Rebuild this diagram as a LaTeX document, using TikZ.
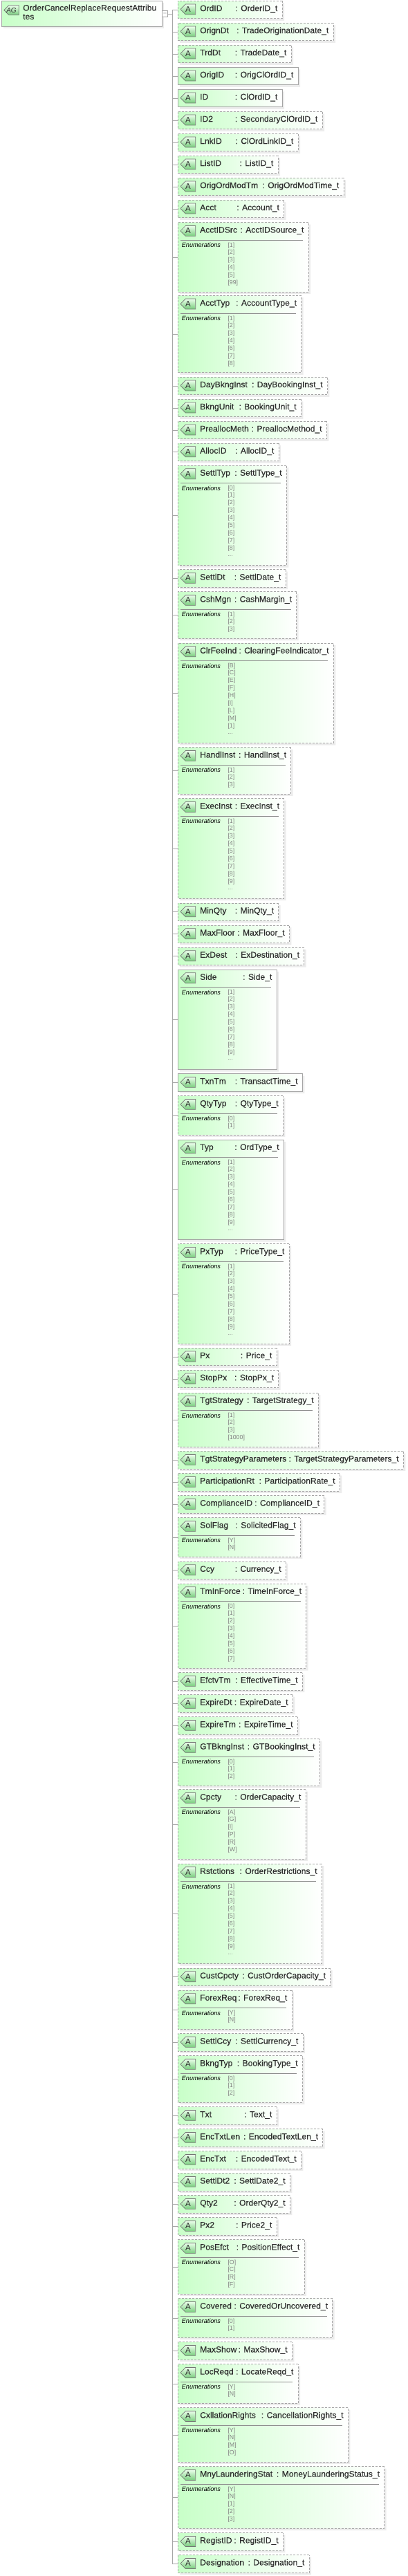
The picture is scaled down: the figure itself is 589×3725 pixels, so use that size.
\documentclass[tikz,border=0pt]{standalone}
\usepackage{fontspec}
\setmainfont{Liberation Sans}
\newfontfamily\attrfont[FakeBold=0.2]{Liberation Sans}
\usetikzlibrary{shapes.misc, shadows}
\definecolor{attrgreen}{RGB}{200,255,200}
\definecolor{iconlow}{RGB}{120,205,125}
\definecolor{iconhigh}{RGB}{235,255,235}
\definecolor{edgegray}{RGB}{165,165,165}
\definecolor{textgray}{RGB}{45,45,45}
\definecolor{enumgray}{RGB}{130,130,130}

\newcommand{\attrhead}[4]{%
  \node[attricon] (#1-icon) at (272,12.2) {A};
  \node[attrtext, anchor=base west] (#1-name) at (289,14.8) {#3};
  \node[attrtext, anchor=base east] (#1-type) at (#2-6.5,14.8) {#4};
  \node[attrtext, anchor=base east] (#1-colon) at ([xshift=-4pt]#1-type.base west) {:};
  \draw[wire] (toggle.east) -- (fork) |- (#1.west);
}
\newcommand{\attrbox}[6][opt]{%
  \pgfmathsetmacro\boxw{#4-257}
  \begin{scope}[shift={(0,#3)}]
    \node[attr, #1, minimum width=\boxw pt, minimum height=25.5pt] (#2) at (257,12.75) {};
    \attrhead{#2}{#4}{#5}{#6}
  \end{scope}
}
\newcommand{\enumbox}[7][opt]{%
  \foreach \enumv [count=\rowc] in {#7} {\xdef\enumn{\rowc}}
  \pgfmathsetmacro\boxw{#4-257}
  \pgfmathsetmacro\boxh{34.5+11*\enumn}
  \pgfmathsetmacro\boxm{\boxh/2}
  \begin{scope}[shift={(0,#3)}]
    \node[attr, #1, minimum width=\boxw pt, minimum height=\boxh pt] (#2) at (257,\boxm) {};
    \attrhead{#2}{#4}{#5}{#6}
    \coordinate (#2-a) at (261.3,25.7);
    \coordinate (#2-b) at (#4-8,25.7);
    \draw[rowline] (#2-a) -- (#2-b);
    \node[enumhead] (#2-enum) at (262.7,36) {Enumerations};
    \foreach \enumv [count=\rowc] in {#7} {
      \pgfmathsetmacro\rowy{ifthenelse(\rowc==1,35.7,45.7+11*(\rowc-2))}
      \node[enumval] (#2-v\rowc) at (329.3,\rowy) {\enumv};
    }
  \end{scope}
}
\newcommand{\enumdots}{\raisebox{2pt}{...}}

\begin{document}
\begin{tikzpicture}[
    x=1pt, y=-1pt,
    attr/.style={draw=edgegray, line width=0.8pt, anchor=west, inner sep=0pt, outer sep=0pt,
      chamfered rectangle, chamfered rectangle sep=8pt,
      chamfered rectangle corners={north west,south west},
      left color=attrgreen, right color=white,
      drop shadow={shadow xshift=3pt, shadow yshift=-3pt, fill=black!15}},
    opt/.style={dash pattern=on 3pt off 2pt},
    req/.style={solid},
    attricon/.style={draw=black!55, line width=0.7pt, inner sep=0pt, minimum width=21.4pt, minimum height=13.6pt,
      chamfered rectangle, chamfered rectangle sep=3.5pt,
      chamfered rectangle corners={north west,south west},
      top color=iconhigh, bottom color=iconlow, text=textgray, font=\fontsize{11.5}{12}\selectfont},
    attrtext/.style={inner sep=0pt, text=textgray, font=\attrfont\fontsize{12.1}{12.7}\selectfont},
    enumhead/.style={inner sep=0pt, anchor=base west, font=\fontsize{9.1}{10}\selectfont\itshape},
    enumval/.style={inner sep=0pt, anchor=base west, text=enumgray, font=\fontsize{8.8}{10}\selectfont},
    rowline/.style={draw=black!45, line width=0.7pt},
    wire/.style={draw=black!35, line width=0.8pt},
    togglebox/.style={draw=edgegray, fill=white, line width=0.7pt, inner sep=0pt, minimum size=8.5pt,
      text=enumgray, font=\fontsize{8}{8}\selectfont}
]
\useasboundingbox (0,0) rectangle (589,3725);

\node[attr, req, minimum width=232pt, minimum height=37pt] (group) at (2,19.5) {};
\node[attricon, minimum width=21pt, minimum height=13pt, font=\fontsize{10}{11}\selectfont\itshape] (group-icon) at (16.5,14.7) {AG};
\node[attrtext, anchor=north west, align=left] (group-name) at (33,6.5) {OrderCancelReplaceRequestAttribu\\tes};
\node[togglebox] (toggle) at (238.5,20) {--};
\coordinate (fork) at (249.7,20);

\attrbox{OrdID}{1.3}{408}{OrdID}{OrderID\_t}
\attrbox{OrignDt}{33.3}{482}{OrignDt}{TradeOriginationDate\_t}
\attrbox{TrdDt}{65.3}{421}{TrdDt}{TradeDate\_t}
\attrbox[req]{OrigID}{97.3}{431}{OrigID}{OrigClOrdID\_t}
\attrbox[req]{ID}{129.3}{408}{ID}{ClOrdID\_t}
\attrbox{ID2}{161.3}{466}{ID2}{SecondaryClOrdID\_t}
\attrbox{LnkID}{193.3}{431}{LnkID}{ClOrdLinkID\_t}
\attrbox{ListID}{225.3}{402}{ListID}{ListID\_t}
\attrbox{OrigOrdModTm}{257.3}{497}{OrigOrdModTm}{OrigOrdModTime\_t}
\attrbox{Acct}{289.3}{410.6}{Acct}{Account\_t}
\enumbox{AcctIDSrc}{321.7}{446}{AcctIDSrc}{AcctIDSource\_t}{[1],[2],[3],[4],[5],[99]}
\enumbox{AcctTyp}{427.3}{435.7}{AcctTyp}{AccountType\_t}{[1],[2],[3],[4],[6],[7],[8]}
\attrbox{DayBkngInst}{545.3}{473.3}{DayBkngInst}{DayBookingInst\_t}
\attrbox{BkngUnit}{577.3}{435.3}{BkngUnit}{BookingUnit\_t}
\attrbox{PreallocMeth}{609.3}{472.3}{PreallocMeth}{PreallocMethod\_t}
\attrbox{AllocID}{641.0}{403}{AllocID}{AllocID\_t}
\enumbox{SettlTyp}{673.0}{414.3}{SettlTyp}{SettlType\_t}{[0],[1],[2],[3],[4],[5],[6],[7],[8],\enumdots}
\attrbox{SettlDt}{823.7}{413}{SettlDt}{SettlDate\_t}
\enumbox{CshMgn}{855.7}{428.7}{CshMgn}{CashMargin\_t}{[1],[2],[3]}
\enumbox{ClrFeeInd}{930.0}{482.3}{ClrFeeInd}{ClearingFeeIndicator\_t}{[B],[C],[E],[F],[H],[I],[L],[M],[1],\enumdots}
\enumbox{HandlInst}{1080.7}{420.7}{HandlInst}{HandlInst\_t}{[1],[2],[3]}
\enumbox{ExecInst}{1154.7}{410.7}{ExecInst}{ExecInst\_t}{[1],[2],[3],[4],[5],[6],[7],[8],[9],\enumdots}
\attrbox{MinQty}{1306}{402.7}{MinQty}{MinQty\_t}
\attrbox{MaxFloor}{1338}{418.3}{MaxFloor}{MaxFloor\_t}
\attrbox{ExDest}{1370}{439.7}{ExDest}{ExDestination\_t}
\enumbox[req]{Side}{1402}{400}{Side}{Side\_t}{[1],[2],[3],[4],[5],[6],[7],[8],[9],\enumdots}
\attrbox[req]{TxnTm}{1552.7}{437.3}{TxnTm}{TransactTime\_t}
\enumbox{QtyTyp}{1584.7}{409.3}{QtyTyp}{QtyType\_t}{[0],[1]}
\enumbox[req]{Typ}{1648}{410.3}{Typ}{OrdType\_t}{[1],[2],[3],[4],[5],[6],[7],[8],[9],\enumdots}
\enumbox{PxTyp}{1798.7}{418}{PxTyp}{PriceType\_t}{[1],[2],[3],[4],[5],[6],[7],[8],[9],\enumdots}
\attrbox{Px}{1949.3}{400}{Px}{Price\_t}
\attrbox{StopPx}{1981.3}{402.7}{StopPx}{StopPx\_t}
\enumbox{TgtStrategy}{2014}{460.3}{TgtStrategy}{TargetStrategy\_t}{[1],[2],[3],[1000]}
\attrbox{TgtStrategyParameters}{2098.7}{583.3}{TgtStrategyParameters}{TargetStrategyParameters\_t}
\attrbox{ParticipationRt}{2130.7}{491.3}{ParticipationRt}{ParticipationRate\_t}
\attrbox{ComplianceID}{2162.7}{468.7}{ComplianceID}{ComplianceID\_t}
\enumbox{SolFlag}{2194.7}{434.3}{SolFlag}{SolicitedFlag\_t}{[Y],[N]}
\attrbox{Ccy}{2258}{413.3}{Ccy}{Currency\_t}
\enumbox{TmInForce}{2290}{442.7}{TmInForce}{TimeInForce\_t}{[0],[1],[2],[3],[4],[5],[6],[7]}
\attrbox{EfctvTm}{2418.7}{437.3}{EfctvTm}{EffectiveTime\_t}
\attrbox{ExpireDt}{2450.7}{423.3}{ExpireDt}{ExpireDate\_t}
\attrbox{ExpireTm}{2482.7}{430.3}{ExpireTm}{ExpireTime\_t}
\enumbox{GTBkngInst}{2514.7}{462.3}{GTBkngInst}{GTBookingInst\_t}{[0],[1],[2]}
\enumbox{Cpcty}{2587.7}{442}{Cpcty}{OrderCapacity\_t}{[A],[G],[I],[P],[R],[W]}
\enumbox{Rstctions}{2695}{465.3}{Rstctions}{OrderRestrictions\_t}{[1],[2],[3],[4],[5],[6],[7],[8],[9],\enumdots}
\attrbox{CustCpcty}{2846}{477.7}{CustCpcty}{CustOrderCapacity\_t}
\enumbox{ForexReq}{2878}{422}{ForexReq}{ForexReq\_t}{[Y],[N]}
\attrbox{SettlCcy}{2940.7}{438}{SettlCcy}{SettlCurrency\_t}
\enumbox{BkngTyp}{2972.7}{437.3}{BkngTyp}{BookingType\_t}{[0],[1],[2]}
\attrbox{Txt}{3046.7}{400}{Txt}{Text\_t}
\attrbox{EncTxtLen}{3078.7}{466.7}{EncTxtLen}{EncodedTextLen\_t}
\attrbox{EncTxt}{3110.7}{435.3}{EncTxt}{EncodedText\_t}
\attrbox{SettlDt2}{3142.7}{419.3}{SettlDt2}{SettlDate2\_t}
\attrbox{Qty2}{3174.7}{419.3}{Qty2}{OrderQty2\_t}
\attrbox{Px2}{3206.7}{400}{Px2}{Price2\_t}
\enumbox{PosEfct}{3238.7}{440}{PosEfct}{PositionEffect\_t}{[O],[C],[R],[F]}
\enumbox{Covered}{3323.7}{480.7}{Covered}{CoveredOrUncovered\_t}{[0],[1]}
\attrbox{MaxShow}{3386.7}{422.3}{MaxShow}{MaxShow\_t}
\enumbox{LocReqd}{3418.7}{431}{LocReqd}{LocateReqd\_t}{[Y],[N]}
\enumbox{CxllationRights}{3481.7}{503.3}{CxllationRights}{CancellationRights\_t}{[Y],[N],[M],[O]}
\enumbox{MnyLaunderingStat}{3566.7}{555.7}{MnyLaunderingStat}{MoneyLaunderingStatus\_t}{[Y],[N],[1],[2],[3]}
\attrbox{RegistID}{3662.7}{409.3}{RegistID}{RegistID\_t}
\attrbox{Designation}{3694.7}{447}{Designation}{Designation\_t}
\end{tikzpicture}
\end{document}
